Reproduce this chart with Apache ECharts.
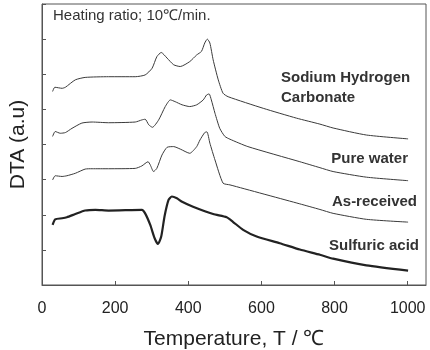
<!DOCTYPE html>
<html>
<head>
<meta charset="utf-8">
<script src="https://cdn.jsdelivr.net/npm/echarts@6/dist/echarts.min.js"></script>
<style>
  html, body { margin: 0; padding: 0; background: #fff; }
  #chart { width: 430px; height: 350px; }
</style>
</head>
<body>
<div id="chart"></div>
<script>
// temperaturas (°C) y señal DTA (u.a.)
const sodiumT = [29, 35, 55, 64, 91, 118, 182, 255, 282, 301, 314, 326, 342, 360, 378, 404, 423, 436, 445, 452, 459, 468, 482, 495, 509, 605, 696, 760, 796, 887, 1001];
const sodiumV = [5.51, 5.63, 5.60, 5.63, 5.84, 5.91, 5.93, 5.93, 5.98, 6.17, 6.50, 6.62, 6.46, 6.27, 6.22, 6.36, 6.55, 6.65, 6.89, 7.00, 6.89, 6.41, 5.84, 5.46, 5.36, 5.03, 4.75, 4.58, 4.47, 4.27, 4.16];

const waterT = [29, 36, 50, 64, 82, 109, 137, 182, 255, 273, 282, 292, 302, 319, 337, 351, 364, 383, 404, 423, 441, 450, 457, 463, 473, 486, 500, 514, 563, 705, 760, 796, 887, 1001];
const waterV = [4.23, 4.37, 4.32, 4.34, 4.46, 4.61, 4.64, 4.62, 4.64, 4.70, 4.72, 4.56, 4.49, 4.70, 5.08, 5.27, 5.22, 5.13, 5.08, 5.13, 5.27, 5.41, 5.44, 5.27, 4.89, 4.46, 4.23, 4.15, 3.94, 3.51, 3.34, 3.23, 3.07, 2.97];

const receivedT = [29, 36, 55, 68, 91, 118, 137, 182, 255, 273, 290, 296, 305, 314, 328, 342, 360, 378, 404, 423, 432, 445, 451, 459, 473, 495, 514, 705, 760, 796, 887, 1001];
const receivedV = [2.99, 3.11, 3.09, 3.11, 3.18, 3.30, 3.31, 3.31, 3.32, 3.39, 3.51, 3.42, 3.23, 3.32, 3.70, 3.92, 3.94, 3.87, 3.75, 3.94, 4.13, 4.34, 4.36, 4.04, 3.56, 2.90, 2.85, 2.31, 2.15, 2.04, 1.87, 1.79];

const sulfuricT = [29, 36, 55, 68, 91, 118, 146, 182, 273, 282, 296, 308, 317, 326, 335, 346, 355, 369, 383, 413, 468, 505, 522, 550, 587, 650, 705, 760, 796, 887, 1001];
const sulfuricV = [1.71, 1.87, 1.90, 1.93, 2.02, 2.12, 2.14, 2.12, 2.14, 2.04, 1.71, 1.33, 1.17, 1.38, 1.95, 2.42, 2.52, 2.47, 2.37, 2.23, 2.02, 1.93, 1.80, 1.57, 1.38, 1.19, 1.01, 0.86, 0.75, 0.56, 0.41];

const xTicks = [0, 200, 400, 600, 800, 1000];

function pairs(t, v) {
    return t.map((x, i) => [x, v[i]]);
}

const chart = echarts.init(document.getElementById("chart"), null, { renderer: "canvas" });
const font = "Liberation Sans, Arial, sans-serif";

function curve(name, t, v, width, color) {
    return {
        name: name,
        type: "line",
        data: pairs(t, v),
        symbol: "none",
        smooth: 0.2,
        lineStyle: { width: width, color: color },
        silent: true
    };
}

chart.setOption({
    animation: false,
    grid: {
        left: 42, right: 4, top: 4, bottom: 65,
        outerBoundsMode: "none",
        show: true, borderColor: "#555", borderWidth: 1
    },
    xAxis: {
        type: "value",
        min: 0,
        max: 1050,
        interval: 200,
        name: "Temperature, T / ℃",
        nameLocation: "middle",
        nameGap: 44,
        nameTextStyle: { fontSize: 21, color: "#222", fontFamily: font },
        axisLine: { lineStyle: { color: "#555" } },
        axisTick: { inside: true, length: 4, lineStyle: { color: "#555" } },
        axisLabel: {
            fontSize: 16, color: "#222", fontFamily: font, margin: 16,
            showMaxLabel: false,
            formatter: v => xTicks.includes(v) ? String(v) : ""
        },
        splitLine: { show: false }
    },
    yAxis: {
        type: "value",
        min: 0,
        max: 8,
        interval: 1,
        name: "DTA (a.u)",
        nameLocation: "middle",
        nameGap: 13,
        nameTextStyle: { fontSize: 21, color: "#222", fontFamily: font },
        axisLine: { lineStyle: { color: "#555" } },
        axisTick: { inside: true, length: 4, lineStyle: { color: "#555" } },
        axisLabel: { show: false },
        splitLine: { show: false }
    },
    series: [
        curve("Sodium Hydrogen Carbonate", sodiumT, sodiumV, 1, "#3a3a3a"),
        curve("Pure water", waterT, waterV, 1, "#3a3a3a"),
        curve("As-received", receivedT, receivedV, 1, "#3a3a3a"),
        curve("Sulfuric acid", sulfuricT, sulfuricV, 2.2, "#222")
    ],
    graphic: [
        { type: "text", left: 53, top: 8, style: { text: "Heating ratio; 10℃/min.", font: "15px " + font, fill: "#333" } },
        { type: "text", left: 281, top: 68, style: { text: "Sodium Hydrogen\nCarbonate", font: "bold 15px " + font, fill: "#333", lineHeight: 20 } },
        { type: "text", right: 22, top: 151, style: { text: "Pure water", font: "bold 15px " + font, fill: "#333" } },
        { type: "text", right: 13, top: 194, style: { text: "As-received", font: "bold 15px " + font, fill: "#333" } },
        { type: "text", right: 11, top: 238, style: { text: "Sulfuric acid", font: "bold 15px " + font, fill: "#333" } }
    ]
});
</script>
</body>
</html>
